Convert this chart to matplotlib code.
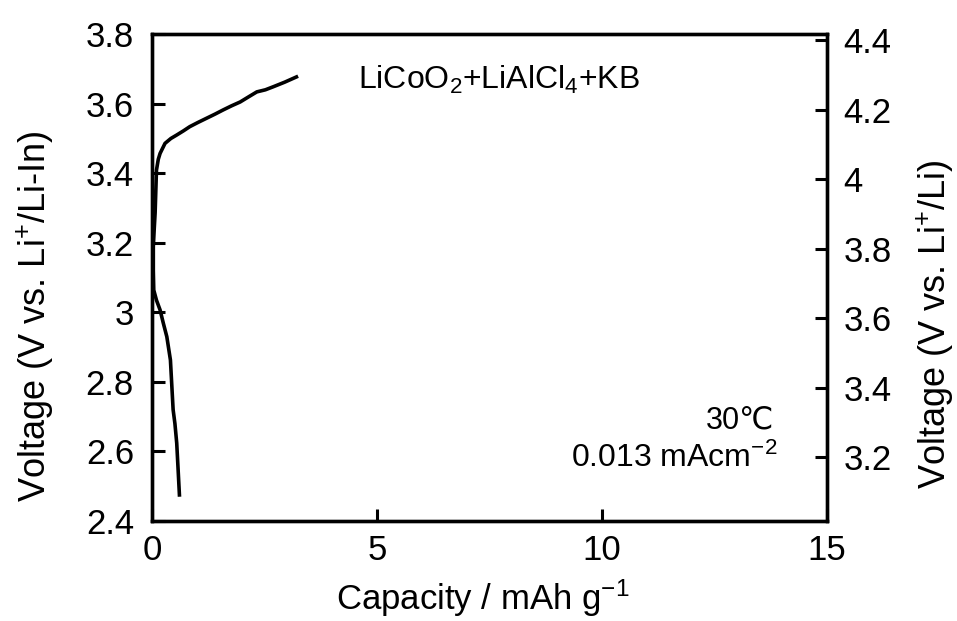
import matplotlib
matplotlib.use("Agg")
import matplotlib.pyplot as plt

plt.rcParams["font.family"] = ["Liberation Sans", "DejaVu Sans"]
plt.rcParams["mathtext.fontset"] = "custom"
plt.rcParams["mathtext.rm"] = "Liberation Sans"
plt.rcParams["mathtext.it"] = "Liberation Sans"

# charge curve
capacity = [0.61, 0.58, 0.55, 0.51, 0.47, 0.41, 0.33, 0.25, 0.18, 0.10, 0.04, 0.03,
            0.03, 0.05, 0.07, 0.10, 0.14, 0.18, 0.29, 0.42, 0.55, 0.70, 0.84,
            1.02, 1.21, 1.40, 1.58, 1.77, 1.96, 2.15, 2.33, 2.52, 2.70, 2.95, 3.21]
voltage = [2.475, 2.55, 2.624, 2.68, 2.72, 2.863, 2.93, 2.97, 3.007, 3.035, 3.064, 3.12,
           3.189, 3.24, 3.286, 3.409, 3.44, 3.457, 3.486, 3.50, 3.510, 3.522, 3.534,
           3.546, 3.558, 3.570, 3.582, 3.594, 3.605, 3.620, 3.634, 3.640, 3.649, 3.662, 3.677]

li_in_offset = 0.617
x_ticks = [0, 5, 10, 15]
left_ticks = [2.4, 2.6, 2.8, 3.0, 3.2, 3.4, 3.6, 3.8]
left_labels = ["2.4", "2.6", "2.8", "3", "3.2", "3.4", "3.6", "3.8"]
right_ticks = [3.2, 3.4, 3.6, 3.8, 4.0, 4.2, 4.4]
right_labels = ["3.2", "3.4", "3.6", "3.8", "4", "4.2", "4.4"]

fig = plt.figure(figsize=(9.57, 6.21), dpi=100)
ax = fig.add_axes([0.1588, 0.161, 0.7054, 0.784])
ax.plot(capacity, voltage, color="black", lw=2.6, solid_joinstyle="round")

ax.set_xlim(0, 15)
ax.set_ylim(2.4, 3.8)
ax.set_xticks(x_ticks)
ax.set_yticks(left_ticks)
ax.set_yticklabels(left_labels)
ax.set_xlabel("Capacity / mAh g$^{-1}$", fontsize=25)
ax.xaxis.set_label_coords(0.49, -0.115)
ax.tick_params(direction="in", length=9, width=2.2, labelsize=25)
ax.tick_params(axis="x", pad=9)
ax.tick_params(axis="y", pad=13)
for s in ax.spines.values():
    s.set_linewidth(2.4)

ax2 = ax.twinx()
ax2.set_ylim(2.4 + li_in_offset, 3.8 + li_in_offset)
ax2.set_yticks(right_ticks)
ax2.set_yticklabels(right_labels)
ax2.tick_params(direction="in", length=9, width=2.2, labelsize=25, pad=12)
for s in ax2.spines.values():
    s.set_linewidth(2.4)

fig.text(0.0366, 0.49, "Voltage (V vs. Li$^{+}$/Li-In)", fontsize=26, rotation=90,
         ha="center", va="center")
fig.text(0.977, 0.478, "Voltage (V vs. Li$^{+}$/Li)", fontsize=26, rotation=90,
         ha="center", va="center")

ax.text(0.305, 0.905, "LiCoO$_2$+LiAlCl$_4$+KB", transform=ax.transAxes,
        fontsize=23, ha="left", va="center")
ax.text(0.922, 0.207, "30\u2103", transform=ax.transAxes, fontsize=22, ha="right", va="center")
ax.text(0.927, 0.129, "0.013 mAcm$^{-2}$", transform=ax.transAxes, fontsize=23,
        ha="right", va="center")

fig.savefig("out.png", dpi=100)
